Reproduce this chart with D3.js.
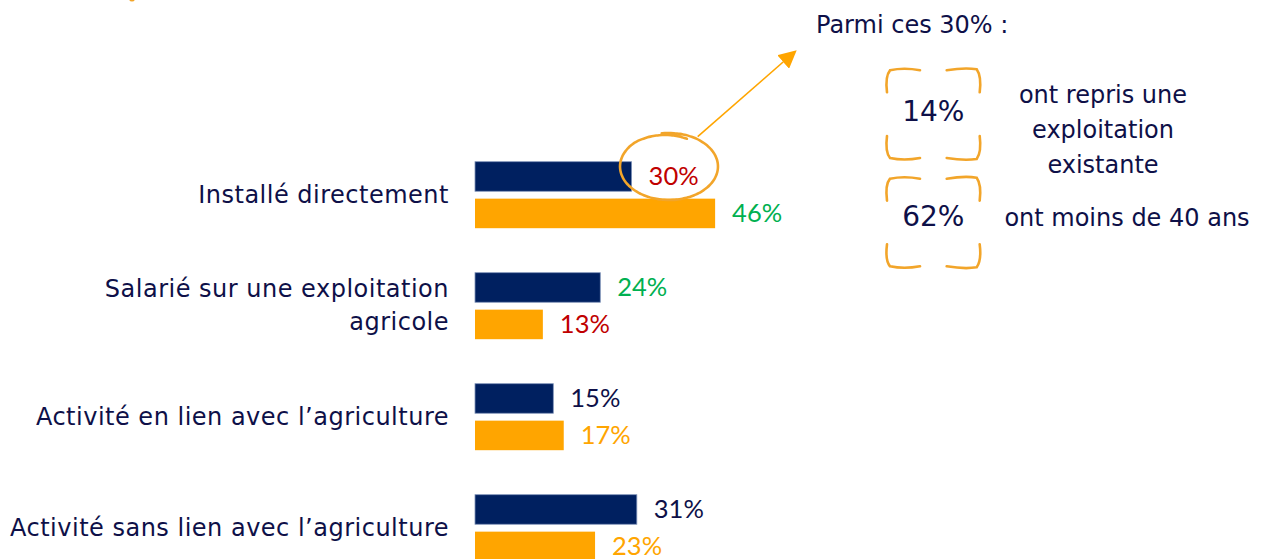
<!DOCTYPE html>
<html>
<head>
<meta charset="utf-8">
<script src="https://cdn.jsdelivr.net/npm/d3@7"></script>
<style>
  html, body { margin: 0; padding: 0; background: #fff; }
  svg { display: block; font-family: "DejaVu Sans", sans-serif; }
  .val { font-family: "Lato", sans-serif; }
  .lbl { letter-spacing: 0.5px; }
</style>
</head>
<body>
<div id="chart"></div>
<script>
const categories = [
  ["Installé directement"],
  ["Salarié sur une exploitation", "agricole"],
  ["Activité en lien avec l’agriculture"],
  ["Activité sans lien avec l’agriculture"]
];
const series = ["s1", "s2"];
const valuesS1 = [30, 24, 15, 31];
const valuesS2 = [46, 13, 17, 23];
// tonalité de l'étiquette : 'down' rouge, 'up' vert, sinon couleur de la série
const toneS1 = ["down", "up", "none", "none"];
const toneS2 = ["up", "down", "none", "none"];

const calloutTitle = "Parmi ces 30% :";
const calloutValues = ["14%", "62%"];
const calloutTexts = [["ont repris une", "exploitation", "existante"], ["ont moins de 40 ans"]];

const width = 1261, height = 559;
const navy = "#002060", orange = "#FFA500", ink = "#0e1048";
const red = "#C00000", green = "#00B050", accent = "#F2A52A";
const labelSize = 24;

const svg = d3.select("#chart").append("svg")
  .attr("width", width).attr("height", height);

const x = d3.scaleLinear().domain([0, 100]).range([475, 475 + 522]);
const y = d3.scaleBand().domain(d3.range(categories.length))
  .range([161.7, 161.7 + 111 * categories.length]);
const ySub = d3.scaleBand().domain(series).range([0, 66.5]).paddingInner(0.2);

const rows = categories.map((c, i) => ({
  i, label: c,
  bars: [
    { key: "s1", v: valuesS1[i], tone: toneS1[i] },
    { key: "s2", v: valuesS2[i], tone: toneS2[i] }
  ]
}));

const toneColor = (b) => b.tone === "down" ? red : b.tone === "up" ? green : (b.key === "s1" ? ink : orange);

const grp = svg.append("g").selectAll("g").data(rows).join("g")
  .attr("transform", d => `translate(0,${y(d.i)})`);

grp.selectAll("rect").data(d => d.bars).join("rect")
  .attr("x", x(0))
  .attr("y", b => ySub(b.key))
  .attr("width", b => x(b.v) - x(0))
  .attr("height", ySub.bandwidth())
  .attr("fill", b => b.key === "s1" ? navy : orange)
  .attr("stroke", b => b.key === "s1" ? "#7f93b8" : "none")
  .attr("stroke-width", 0.8);

grp.selectAll("text.val").data(d => d.bars).join("text")
  .attr("class", "val")
  .attr("x", b => x(b.v) + 17)
  .attr("y", b => ySub(b.key) + ySub.bandwidth() / 2)
  .attr("dy", "0.35em")
  .attr("font-size", 25.5)
  .attr("fill", toneColor)
  .text(b => b.v + "%");

// libellés des catégories
grp.each(function(d) {
  const g = d3.select(this);
  const mid = 33.25;
  const lh = 33;
  const n = d.label.length;
  d.label.forEach((line, k) => {
    g.append("text")
      .attr("class", "lbl")
      .attr("x", 449)
      .attr("y", mid + (k - (n - 1) / 2) * lh)
      .attr("dy", "0.33em")
      .attr("text-anchor", "end")
      .attr("font-size", labelSize)
      .attr("fill", ink)
      .text(line);
  });
});

// cercle dessiné à la main autour de 30%
const cx = 669, cy = 166.5;
const circlePts = d3.range(0, 1.1, 0.01).map(t => {
  const a = -Math.PI / 2 - 0.15 + t * 2 * Math.PI;
  const shrink = 1 - 0.1 * Math.max(0, t - 0.9) / 0.2;
  return [cx + 49 * Math.cos(a) * shrink,
          cy + 33.5 * Math.sin(a) * shrink];
});
svg.append("path")
  .attr("d", d3.line().curve(d3.curveBasis)(circlePts))
  .attr("fill", "none")
  .attr("stroke", accent)
  .attr("stroke-width", 2.6)
  .attr("stroke-linecap", "round");

// flèche vers l'encadré
const defs = svg.append("defs");
defs.append("marker")
  .attr("id", "arrow")
  .attr("viewBox", "0 0 10 10")
  .attr("refX", 8).attr("refY", 5)
  .attr("markerWidth", 18).attr("markerHeight", 18)
  .attr("markerUnits", "userSpaceOnUse")
  .attr("orient", "auto")
  .append("path")
  .attr("d", "M0,0 L10,5 L0,10 z")
  .attr("fill", orange);

svg.append("line")
  .attr("x1", 697.7).attr("y1", 136.7)
  .attr("x2", 794).attr("y2", 52.5)
  .attr("stroke", orange)
  .attr("stroke-width", 1.6)
  .attr("marker-end", "url(#arrow)");

// encadré
svg.append("text")
  .attr("x", 816).attr("y", 33.3)
  .attr("font-size", labelSize)
  .attr("fill", ink)
  .text(calloutTitle);

const boxes = [{ top: 68.3, bottom: 160 }, { top: 176.7, bottom: 268.3 }];
const textPos = [{ x: 1103, y: 103.3 }, { x: 1127, y: 226 }];
const numBase = [121, 226];
const bl = 886, br = 980.7;
boxes.forEach((b, i) => {
  const g = svg.append("g")
    .attr("fill", "none")
    .attr("stroke", accent)
    .attr("stroke-width", 2.6)
    .attr("stroke-linecap", "round");
  const armH = 34, armV = 24;
  // coins arrondis, tracés à la main
  g.append("path").attr("d", `M${bl + 1},${b.top + armV} Q${bl - 1},${b.top + 8} ${bl + 4},${b.top + 2} Q${bl + 18},${b.top - 1} ${bl + armH},${b.top + 2}`);
  g.append("path").attr("d", `M${br - armH},${b.top + 2} Q${br - 16},${b.top - 1} ${br - 4},${b.top + 1} Q${br + 1},${b.top + 8} ${br - 1},${b.top + armV}`);
  g.append("path").attr("d", `M${bl + 1},${b.bottom - armV} Q${bl - 1},${b.bottom - 8} ${bl + 4},${b.bottom - 2} Q${bl + 18},${b.bottom + 1} ${bl + armH},${b.bottom - 2}`);
  g.append("path").attr("d", `M${br - armH},${b.bottom - 2} Q${br - 16},${b.bottom + 1} ${br - 4},${b.bottom - 1} Q${br + 1},${b.bottom - 8} ${br - 1},${b.bottom - armV}`);

  svg.append("text")
    .attr("x", (bl + br) / 2).attr("y", numBase[i])
    .attr("text-anchor", "middle")
    .attr("font-size", 28)
    .attr("fill", ink)
    .text(calloutValues[i]);

  const lh = 34.6;
  calloutTexts[i].forEach((t, k) => {
    svg.append("text")
      .attr("x", textPos[i].x)
      .attr("y", textPos[i].y + k * lh)
      .attr("text-anchor", "middle")
      .attr("font-size", labelSize)
      .attr("fill", ink)
      .text(t);
  });
});

// petit reste de forme coupée en haut à gauche
svg.append("circle").attr("cx", 132).attr("cy", -1.5).attr("r", 3).attr("fill", accent);
</script>
</body>
</html>
